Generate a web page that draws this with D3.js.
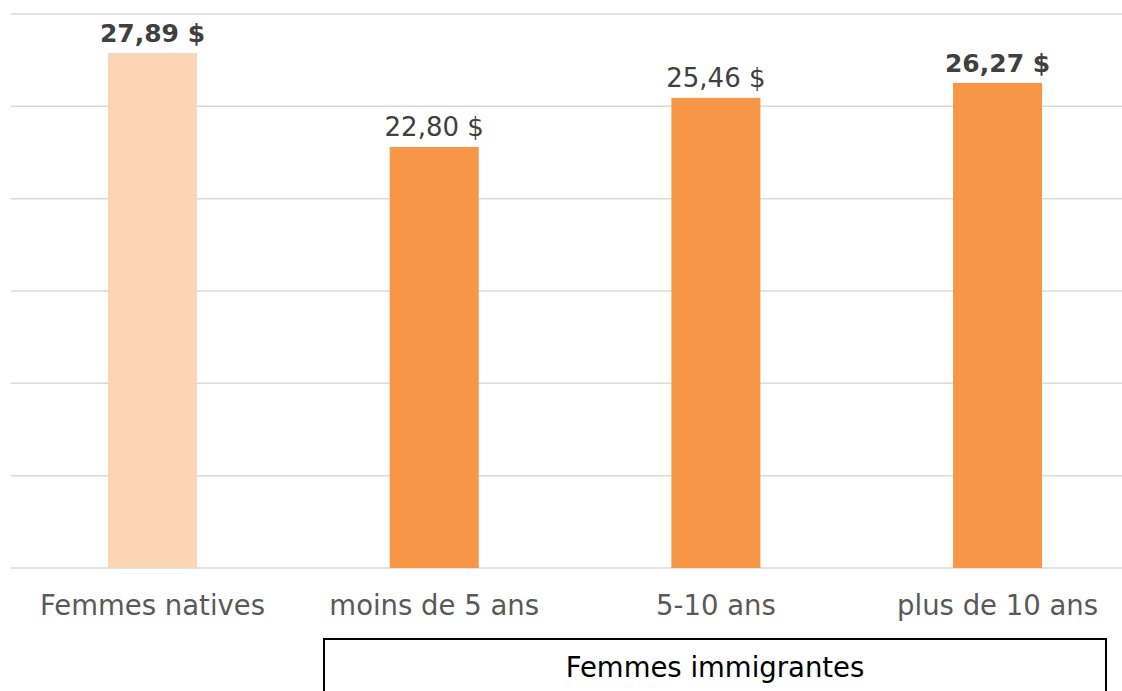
<!DOCTYPE html>
<html>
<head>
<meta charset="utf-8">
<script src="https://cdn.jsdelivr.net/npm/d3@7"></script>
<style>
  body { margin: 0; background: #fff; }
  svg { display: block; font-family: "DejaVu Sans", sans-serif; }
</style>
</head>
<body>
<svg id="chart" width="1122" height="691"></svg>
<script>
const categories = ['Femmes natives', 'moins de 5 ans', '5-10 ans', 'plus de 10 ans'];
const values = [27.89, 22.80, 25.46, 26.27];
const valueLabels = ['27,89 $', '22,80 $', '25,46 $', '26,27 $'];
const boldLabels = [true, false, false, true];
const barColors = ['#FCD5B5', '#F79646', '#F79646', '#F79646'];
const yTicks = [0, 5, 10, 15, 20, 25, 30];
const groupLabel = 'Femmes immigrantes';

const svg = d3.select('#chart');
const plotTop = 14, baseline = 568;

const x = d3.scaleBand()
    .domain(categories)
    .range([11.7, 1138.4])
    .paddingInner(0.684)
    .paddingOuter(0.342);

const y = d3.scaleLinear()
    .domain([0, 30])
    .range([baseline, plotTop]);

// gridlines
svg.append('g')
    .selectAll('line')
    .data(yTicks)
    .join('line')
    .attr('x1', 11)
    .attr('x2', 1122)
    .attr('y1', d => y(d))
    .attr('y2', d => y(d))
    .attr('stroke', '#d9d9d9')
    .attr('stroke-width', 1.5);

// bars
svg.append('g')
    .selectAll('rect')
    .data(values)
    .join('rect')
    .attr('x', (d, i) => x(categories[i]))
    .attr('width', x.bandwidth())
    .attr('y', d => y(d))
    .attr('height', d => baseline - y(d))
    .attr('fill', (d, i) => barColors[i]);

// value labels
svg.append('g')
    .selectAll('text')
    .data(values)
    .join('text')
    .attr('x', (d, i) => x(categories[i]) + x.bandwidth() / 2)
    .attr('y', d => y(d) - 11)
    .attr('text-anchor', 'middle')
    .attr('font-size', (d, i) => boldLabels[i] ? 25 : 26)
    .attr('font-weight', (d, i) => boldLabels[i] ? 'bold' : 'normal')
    .attr('fill', '#404040')
    .text((d, i) => valueLabels[i]);

// category labels
svg.append('g')
    .selectAll('text')
    .data(categories)
    .join('text')
    .attr('x', d => x(d) + x.bandwidth() / 2)
    .attr('y', 615)
    .attr('text-anchor', 'middle')
    .attr('font-size', 27.5)
    .attr('fill', '#595959')
    .text(d => d);

// group box
svg.append('rect')
    .attr('x', 324)
    .attr('y', 639)
    .attr('width', 782)
    .attr('height', 70)
    .attr('fill', 'none')
    .attr('stroke', '#000')
    .attr('stroke-width', 2);

svg.append('text')
    .attr('x', 715)
    .attr('y', 677)
    .attr('text-anchor', 'middle')
    .attr('font-size', 27.5)
    .attr('fill', '#000')
    .text(groupLabel);
</script>
</body>
</html>
